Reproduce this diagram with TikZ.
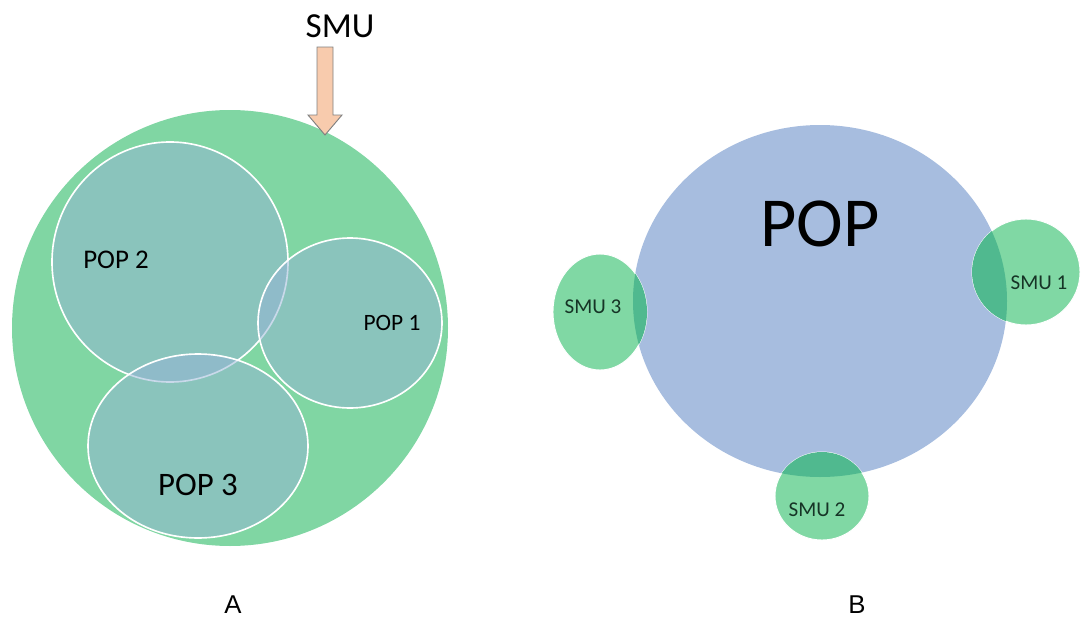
\documentclass[tikz,border=0pt]{standalone}
\usepackage{fontspec}
\setmainfont{Carlito}
\newfontfamily\arialfont{Liberation Sans}
\usepackage{xcolor}
\usepackage{tikz}
\usetikzlibrary{shapes,arrows}
\definecolor{outergreen}{RGB}{128,214,163}
\definecolor{popblue}{RGB}{149,180,214}
\definecolor{bigblue}{RGB}{167,189,223}
\definecolor{smugreen}{RGB}{128,216,164}
\definecolor{smudark}{RGB}{80,185,143}
\definecolor{arrowfill}{RGB}{248,203,173}
\definecolor{smutext}{RGB}{22,52,38}
\tikzstyle{pop} = [fill=popblue, fill opacity=0.5, draw=white, line width=1.4pt]
\tikzstyle{smu} = [fill=smugreen, draw=white, line width=0.8pt]
\tikzstyle{smuarrow} = [fill=arrowfill, draw=gray, line width=0.8pt]
\tikzstyle{panel} = [anchor=base, inner sep=0pt, font=\arialfont\fontsize{22}{24}\selectfont]

\begin{document}
\begin{tikzpicture}[x=0.03cm, y=-0.03cm]
\useasboundingbox (0,0) rectangle (1084,617);
% A
\fill[outergreen] (230,328) circle [radius=218];
\draw[pop] (170,262) ellipse [x radius=118, y radius=120];
\draw[pop] (350,323) ellipse [x radius=92, y radius=85];
\draw[pop] (198,446) ellipse [x radius=110, y radius=92];
%
\node (smu) at (340,26) {\fontsize{30}{36}\selectfont SMU};
\coordinate (tip) at (325,135);
\draw[smuarrow] (tip) -- ++(-17,-20) -- ++(9,0) -- ++(0,-68) -- ++(16,0) -- ++(0,68) -- ++(9,0) -- cycle;
%
\node (pop2) at (116,260) {\fontsize{23}{27}\selectfont POP 2};
\node (pop1) at (392,323) {\fontsize{20}{24}\selectfont POP 1};
\node (pop3) at (198,485) {\fontsize{28}{33}\selectfont POP 3};
\node[panel] (lblA) at (233,613) {A};
% B
\fill[bigblue] (820,301) ellipse [x radius=187, y radius=176];
\draw[smu] (600,312) ellipse [x radius=47, y radius=58];
\draw[smu] (1026,272) ellipse [x radius=54, y radius=53];
\draw[smu] (822,496) ellipse [x radius=47, y radius=44];
\begin{scope}
\clip (820,301) ellipse [x radius=187, y radius=176];
\fill[smudark] (600,312) ellipse [x radius=47, y radius=58];
\fill[smudark] (1026,272) ellipse [x radius=54, y radius=53];
\fill[smudark] (822,496) ellipse [x radius=47, y radius=44];
\end{scope}
%
\node (popB) at (820,224) {\fontsize{60}{68}\selectfont POP};
\node[text=smutext] (smu3) at (593,307) {\fontsize{18}{22}\selectfont SMU 3};
\node[text=smutext] (smu1) at (1039,283) {\fontsize{18}{22}\selectfont SMU 1};
\node[text=smutext] (smu2) at (817,510) {\fontsize{18}{22}\selectfont SMU 2};
\node[panel] (lblB) at (857,613) {B};
\end{tikzpicture}
\end{document}
